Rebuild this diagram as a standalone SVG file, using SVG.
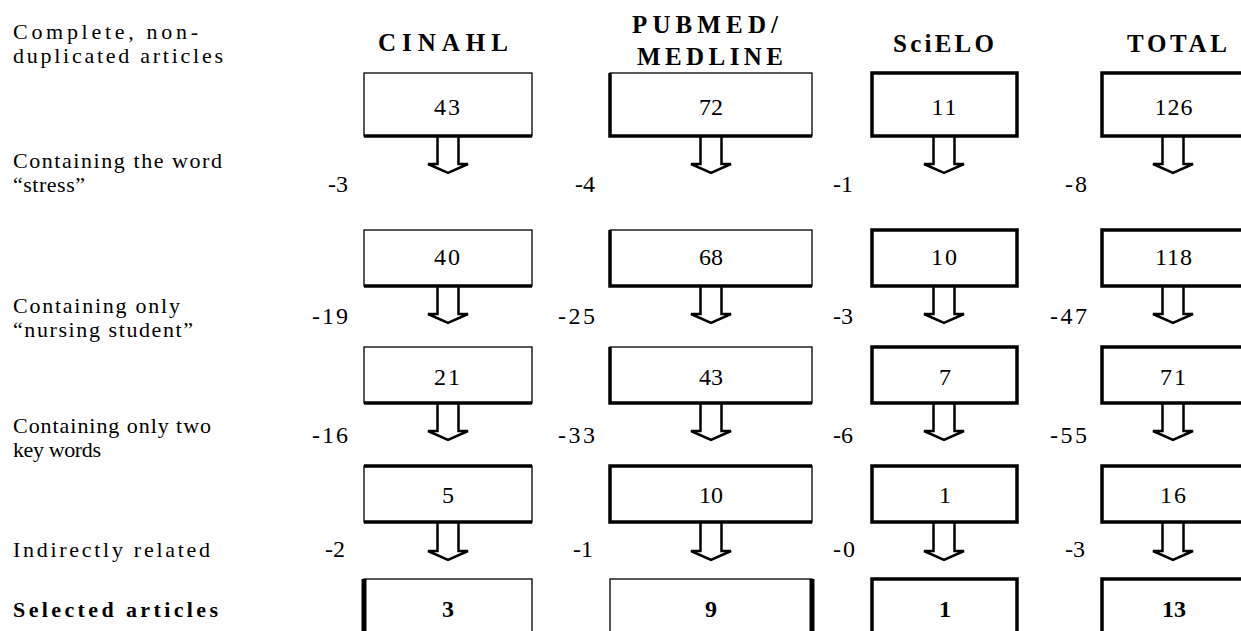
<svg xmlns="http://www.w3.org/2000/svg" width="1241" height="631" viewBox="0 0 1241 631">
<style>
text{font-family:"Liberation Serif","Times New Roman",serif;fill:#000}
.lbl{font-size:22px}
.hdr{font-size:25px;font-weight:bold}
.num{font-size:24px;text-anchor:middle}
.sel{font-size:24px;font-weight:bold;text-anchor:middle}
.dec{font-size:24px}
.thin{fill:#fff;stroke:#000;stroke-width:1.3}
.med{fill:#fff;stroke:#000;stroke-width:3.5}
.tk{stroke:#000;stroke-width:3.5;fill:none}
.tk5{stroke:#000;stroke-width:5;fill:none}
.arr{fill:#fff;stroke:#000;stroke-width:2.5;stroke-linejoin:miter}
</style>
<rect width="1241" height="631" fill="#fff"/>
<g id="labels">
<text class="lbl" x="13" y="39" textLength="185" lengthAdjust="spacing">Complete, non-</text>
<text class="lbl" x="13" y="63" textLength="210" lengthAdjust="spacing">duplicated articles</text>
<text class="lbl" x="13" y="168" textLength="209" lengthAdjust="spacing">Containing the word</text>
<text class="lbl" x="13" y="192" textLength="72" lengthAdjust="spacing">“stress”</text>
<text class="lbl" x="13" y="313" textLength="167" lengthAdjust="spacing">Containing only</text>
<text class="lbl" x="13" y="337" textLength="180" lengthAdjust="spacing">“nursing student”</text>
<text class="lbl" x="13" y="433" textLength="198" lengthAdjust="spacing">Containing only two</text>
<text class="lbl" x="13" y="457" textLength="88" lengthAdjust="spacing">key words</text>
<text class="lbl" x="13" y="557" textLength="197" lengthAdjust="spacing">Indirectly related</text>
<text class="lbl" x="13" y="617" font-weight="bold" textLength="205" lengthAdjust="spacing">Selected articles</text>
</g>
<g id="headers">
<text class="hdr" x="378" y="51" textLength="130" lengthAdjust="spacing">CINAHL</text>
<text class="hdr" x="632" y="33" textLength="146" lengthAdjust="spacing">PUBMED/</text>
<text class="hdr" x="637" y="65" textLength="146" lengthAdjust="spacing">MEDLINE</text>
<text class="hdr" x="893" y="52" textLength="101" lengthAdjust="spacing">SciELO</text>
<text class="hdr" x="1127" y="52" textLength="100" lengthAdjust="spacing">TOTAL</text>
</g>
<g id="connectors">
<path class="arr" d="M437.5 137V164H428L448 173L468 164H458.5V137"/>
<path class="arr" d="M700.5 137V164H691L711 173L731 164H721.5V137"/>
<path class="arr" d="M933.5 137V164H924L944 173L964 164H954.5V137"/>
<path class="arr" d="M1162.5 137V164H1153L1173 173L1193 164H1183.5V137"/>
<path class="arr" d="M437.5 287V314H428L448 323L468 314H458.5V287"/>
<path class="arr" d="M700.5 287V314H691L711 323L731 314H721.5V287"/>
<path class="arr" d="M933.5 287V314H924L944 323L964 314H954.5V287"/>
<path class="arr" d="M1162.5 287V314H1153L1173 323L1193 314H1183.5V287"/>
<path class="arr" d="M437.5 404V431H428L448 440L468 431H458.5V404"/>
<path class="arr" d="M700.5 404V431H691L711 440L731 431H721.5V404"/>
<path class="arr" d="M933.5 404V431H924L944 440L964 431H954.5V404"/>
<path class="arr" d="M1162.5 404V431H1153L1173 440L1193 431H1183.5V404"/>
<path class="arr" d="M437.5 523V551H428L448 560L468 551H458.5V523"/>
<path class="arr" d="M700.5 523V551H691L711 560L731 551H721.5V523"/>
<path class="arr" d="M933.5 523V551H924L944 560L964 551H954.5V523"/>
<path class="arr" d="M1162.5 523V551H1153L1173 560L1193 551H1183.5V523"/>
</g>
<g id="decrements">
<text class="dec" x="328" y="192" textLength="20" lengthAdjust="spacing">-3</text>
<text class="dec" x="575" y="192" textLength="20" lengthAdjust="spacing">-4</text>
<text class="dec" x="833" y="192" textLength="20" lengthAdjust="spacing">-1</text>
<text class="dec" x="1065" y="192" textLength="22" lengthAdjust="spacing">-8</text>
<text class="dec" x="312" y="324" textLength="36" lengthAdjust="spacing">-19</text>
<text class="dec" x="558" y="324" textLength="37" lengthAdjust="spacing">-25</text>
<text class="dec" x="833" y="324" textLength="20" lengthAdjust="spacing">-3</text>
<text class="dec" x="1050" y="324" textLength="37" lengthAdjust="spacing">-47</text>
<text class="dec" x="312" y="443" textLength="36" lengthAdjust="spacing">-16</text>
<text class="dec" x="558" y="443" textLength="37" lengthAdjust="spacing">-33</text>
<text class="dec" x="833" y="443" textLength="20" lengthAdjust="spacing">-6</text>
<text class="dec" x="1050" y="443" textLength="37" lengthAdjust="spacing">-55</text>
<text class="dec" x="325" y="557">-2</text>
<text class="dec" x="573" y="557" textLength="20" lengthAdjust="spacing">-1</text>
<text class="dec" x="833" y="557" textLength="22" lengthAdjust="spacing">-0</text>
<text class="dec" x="1065" y="557" textLength="20" lengthAdjust="spacing">-3</text>
</g>
<g id="cinahl-43"><rect class="thin" x="364" y="73" width="168" height="63"/><path class="tk" d="M364 136H532"/><text class="num" x="448" y="115" letter-spacing="2">43</text></g>
<g id="pubmed-72"><rect class="thin" x="610" y="73" width="202" height="63"/><path class="tk" d="M610 73V136H812"/><text class="num" x="711" y="115">72</text></g>
<g id="scielo-11"><rect class="med" x="872" y="73" width="145" height="63"/><text class="num" x="945" y="115" letter-spacing="2">11</text></g>
<g id="total-126"><rect class="med" x="1102" y="73" width="142" height="63"/><text class="num" x="1174" y="115" letter-spacing="1">126</text></g>
<g id="cinahl-40"><rect class="thin" x="364" y="230" width="168" height="56"/><path class="tk" d="M364 286H532"/><text class="num" x="448" y="265" letter-spacing="2">40</text></g>
<g id="pubmed-68"><rect class="thin" x="610" y="230" width="202" height="56"/><path class="tk" d="M610 230V286H812"/><text class="num" x="711" y="265">68</text></g>
<g id="scielo-10"><rect class="med" x="872" y="230" width="145" height="56"/><text class="num" x="945" y="265" letter-spacing="2">10</text></g>
<g id="total-118"><rect class="med" x="1102" y="230" width="142" height="56"/><text class="num" x="1174" y="265" letter-spacing="1">118</text></g>
<g id="cinahl-21"><rect class="thin" x="364" y="347" width="168" height="56"/><path class="tk" d="M364 403H532"/><text class="num" x="448" y="385" letter-spacing="2">21</text></g>
<g id="pubmed-43"><rect class="thin" x="610" y="347" width="202" height="56"/><path class="tk" d="M610 347V403H812"/><text class="num" x="711" y="385">43</text></g>
<g id="scielo-7"><rect class="med" x="872" y="347" width="145" height="56"/><text class="num" x="945" y="385">7</text></g>
<g id="total-71"><rect class="med" x="1102" y="347" width="142" height="56"/><text class="num" x="1174" y="385" letter-spacing="2">71</text></g>
<g id="cinahl-5"><rect class="thin" x="364" y="466" width="168" height="56"/><path class="tk" d="M364 466H532M364 522H532"/><text class="num" x="448" y="503">5</text></g>
<g id="pubmed-10"><rect class="thin" x="610" y="466" width="202" height="56"/><path class="tk" d="M812 466H610V522H812"/><text class="num" x="711" y="503">10</text></g>
<g id="scielo-1"><rect class="med" x="872" y="466" width="145" height="56"/><text class="num" x="945" y="503">1</text></g>
<g id="total-16"><rect class="med" x="1102" y="466" width="142" height="56"/><text class="num" x="1174" y="503" letter-spacing="2">16</text></g>
<g id="cinahl-3"><rect class="thin" x="364" y="579" width="168" height="80" stroke-width="2.5"/><path class="tk5" d="M364 579V640"/><text class="sel" x="448" y="617">3</text></g>
<g id="pubmed-9"><rect class="thin" x="610" y="579" width="202" height="80" stroke-width="2.5"/><path class="tk5" d="M812 579V640"/><text class="sel" x="711" y="617">9</text></g>
<g id="scielo-1s"><rect class="med" x="872" y="579" width="145" height="80"/><text class="sel" x="945" y="617">1</text></g>
<g id="total-13"><rect class="med" x="1102" y="579" width="142" height="80"/><text class="sel" x="1174" y="617">13</text></g>
</svg>
